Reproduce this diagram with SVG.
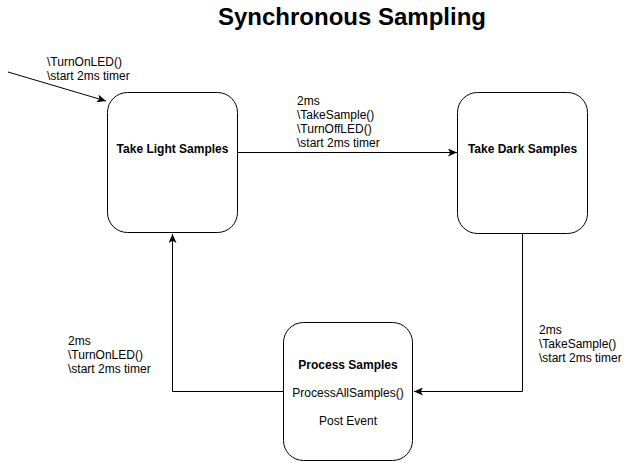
<svg xmlns="http://www.w3.org/2000/svg" width="638" height="463" viewBox="0 0 638 463">
<style>
.node{fill:#fff;stroke:#000;stroke-width:1}
.ntitle{font-family:"Liberation Sans",Arial,sans-serif;font-size:12px;font-weight:bold;fill:#000;text-anchor:middle}
.ntext{font-family:"Liberation Sans",Arial,sans-serif;font-size:12px;fill:#000;text-anchor:middle}
.lbl{font-family:"Liberation Sans",Arial,sans-serif;font-size:12px;fill:#000}
.edge{fill:none;stroke:#000;stroke-width:1}
.title{font-family:"Liberation Sans",Arial,sans-serif;font-size:24px;font-weight:bold;fill:#000;text-anchor:middle}
</style>
<defs>
<marker id="arr" viewBox="0 0 10 8" refX="9" refY="4" markerWidth="10" markerHeight="8" markerUnits="userSpaceOnUse" orient="auto">
<path d="M0,0 L9,4 L0,8 L2.2,4 z" fill="#000"/>
</marker>
</defs>
<rect width="638" height="463" fill="#fff"/>
<text class="title" x="352" y="25">Synchronous Sampling</text>
<g id="connectors">
<path class="edge" d="M8,72 L106,101" marker-end="url(#arr)"/>
<path class="edge" d="M238,152.5 L457,152.5" marker-end="url(#arr)"/>
<path class="edge" d="M522.5,234 L522.5,391.5 L414,391.5" marker-end="url(#arr)"/>
<path class="edge" d="M283,391.5 L172.5,391.5 L172.5,234" marker-end="url(#arr)"/>
<text class="lbl" x="47"><tspan x="47" y="66">\TurnOnLED()</tspan><tspan x="47" y="80">\start 2ms timer</tspan></text>
<text class="lbl"><tspan x="297" y="105">2ms</tspan><tspan x="297" y="119">\TakeSample()</tspan><tspan x="297" y="133">\TurnOffLED()</tspan><tspan x="297" y="147">\start 2ms timer</tspan></text>
<text class="lbl"><tspan x="539" y="334">2ms</tspan><tspan x="539" y="348">\TakeSample()</tspan><tspan x="539" y="362">\start 2ms timer</tspan></text>
<text class="lbl"><tspan x="68" y="345">2ms</tspan><tspan x="68" y="359">\TurnOnLED()</tspan><tspan x="68" y="373">\start 2ms timer</tspan></text>
</g>
<g id="take-light">
<rect class="node" x="107.5" y="92.5" width="130" height="140" rx="20" ry="20"/>
<text class="ntitle" x="172.5" y="153">Take Light Samples</text>
</g>
<g id="take-dark">
<rect class="node" x="457.5" y="92.5" width="130" height="141" rx="20" ry="20"/>
<text class="ntitle" x="522.5" y="153">Take Dark Samples</text>
</g>
<g id="process">
<rect class="node" x="283.5" y="322.5" width="129" height="138" rx="20" ry="20"/>
<text class="ntitle" x="348" y="369">Process Samples</text>
<text class="ntext" x="348" y="397">ProcessAllSamples()</text>
<text class="ntext" x="348" y="425">Post Event</text>
</g>
</svg>
